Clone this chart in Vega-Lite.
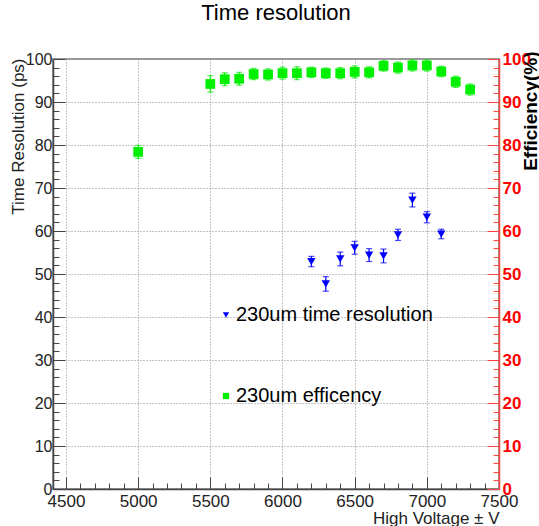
{
  "$schema": "https://vega.github.io/schema/vega-lite/v6.json",
  "width": 446,
  "height": 430,
  "autosize": {"type": "none"},
  "padding": {"left": 53, "top": 59, "right": 40, "bottom": 37},
  "background": "white",
  "config": {
    "font": "Liberation Sans",
    "view": {"stroke": "#999999", "strokeWidth": 2},
    "axisLeft": {
      "labelOverlap": false, "labelBound": false, "labelFlush": false,
      "labelFontSize": 16, "labelColor": "#222222", "labelPadding": 13,
      "tickColor": "#444444", "tickWidth": 1,
      "domainColor": "#444444", "domainWidth": 1.5,
      "gridDash": [1, 2], "gridColor": "#888888",
      "titleFontSize": 17, "titleFontWeight": "normal", "titleColor": "#222222",
      "titleAngle": -90, "titleAlign": "right", "titleBaseline": "middle", "titleX": -35, "titleY": -1
    },
    "axisRight": {
      "labelOverlap": false, "labelBound": false, "labelFlush": false,
      "labelFontSize": 17, "labelFontWeight": "bold", "labelColor": "#ff0000", "labelPadding": 15,
      "tickColor": "#ff4444", "tickWidth": 1,
      "domainColor": "#ff4444", "domainWidth": 1.5,
      "titleFontSize": 19, "titleFontWeight": "bold", "titleColor": "#000000",
      "titleAngle": -90, "titleAlign": "right", "titleBaseline": "middle", "titleX": 31, "titleY": -8
    }
  },
  "title": {"text": "Time resolution", "fontSize": 22, "fontWeight": "normal", "color": "#000000", "offset": 25, "anchor": "middle"},
  "datasets": {
    "eff": [
      {"V": 5000, "val": 78.4, "lo": 76.9, "hi": 79.9, "series": "230um efficency"},
      {"V": 5500, "val": 94.2, "lo": 92.3, "hi": 96.1, "series": "230um efficency"},
      {"V": 5600, "val": 95.3, "lo": 93.8, "hi": 96.8, "series": "230um efficency"},
      {"V": 5700, "val": 95.4, "lo": 93.9, "hi": 96.9, "series": "230um efficency"},
      {"V": 5800, "val": 96.5, "lo": 95.2, "hi": 97.8, "series": "230um efficency"},
      {"V": 5900, "val": 96.4, "lo": 95.1, "hi": 97.7, "series": "230um efficency"},
      {"V": 6000, "val": 96.7, "lo": 95.3, "hi": 98.1, "series": "230um efficency"},
      {"V": 6100, "val": 96.7, "lo": 95.2, "hi": 98.2, "series": "230um efficency"},
      {"V": 6200, "val": 96.9, "lo": 95.7, "hi": 98.1, "series": "230um efficency"},
      {"V": 6300, "val": 96.7, "lo": 95.5, "hi": 97.9, "series": "230um efficency"},
      {"V": 6400, "val": 96.7, "lo": 95.4, "hi": 98.0, "series": "230um efficency"},
      {"V": 6500, "val": 97.0, "lo": 95.6, "hi": 98.4, "series": "230um efficency"},
      {"V": 6600, "val": 96.9, "lo": 95.6, "hi": 98.2, "series": "230um efficency"},
      {"V": 6700, "val": 98.4, "lo": 97.2, "hi": 99.6, "series": "230um efficency"},
      {"V": 6800, "val": 98.0, "lo": 96.7, "hi": 99.3, "series": "230um efficency"},
      {"V": 6900, "val": 98.5, "lo": 97.2, "hi": 99.8, "series": "230um efficency"},
      {"V": 7000, "val": 98.5, "lo": 97.2, "hi": 99.8, "series": "230um efficency"},
      {"V": 7100, "val": 97.1, "lo": 95.9, "hi": 98.3, "series": "230um efficency"},
      {"V": 7200, "val": 94.7, "lo": 93.4, "hi": 96.0, "series": "230um efficency"},
      {"V": 7300, "val": 92.9, "lo": 91.6, "hi": 94.2, "series": "230um efficency"}
    ],
    "tres": [
      {"V": 6200, "val": 52.9, "lo": 51.7, "hi": 54.1, "series": "230um time resolution"},
      {"V": 6300, "val": 47.7, "lo": 46.0, "hi": 49.4, "series": "230um time resolution"},
      {"V": 6400, "val": 53.5, "lo": 51.9, "hi": 55.1, "series": "230um time resolution"},
      {"V": 6500, "val": 56.1, "lo": 54.6, "hi": 57.6, "series": "230um time resolution"},
      {"V": 6600, "val": 54.4, "lo": 52.9, "hi": 55.9, "series": "230um time resolution"},
      {"V": 6700, "val": 54.2, "lo": 52.6, "hi": 55.8, "series": "230um time resolution"},
      {"V": 6800, "val": 59.1, "lo": 57.8, "hi": 60.4, "series": "230um time resolution"},
      {"V": 6900, "val": 67.2, "lo": 65.6, "hi": 68.8, "series": "230um time resolution"},
      {"V": 7000, "val": 63.2, "lo": 61.9, "hi": 64.5, "series": "230um time resolution"},
      {"V": 7100, "val": 59.3, "lo": 58.2, "hi": 60.4, "series": "230um time resolution"}
    ]
  },
  "encoding": {
    "x": {
      "field": "V", "type": "quantitative",
      "scale": {"domain": [4410, 7500], "nice": false, "zero": false},
      "axis": {
        "orient": "bottom",
        "values": [4500,4600,4700,4800,4900,5000,5100,5200,5300,5400,5500,5600,5700,5800,5900,6000,6100,6200,6300,6400,6500,6600,6700,6800,6900,7000,7100,7200,7300,7400,7500],
        "format": "d",
        "labelExpr": "datum.value % 500 === 0 ? datum.label : ''",
        "labelFlush": false, "labelOverlap": false, "labelBound": false,
        "labelFontSize": 17, "labelColor": "#222222", "labelPadding": 16,
        "tickSize": {"condition": {"test": "datum.value % 500 === 0", "value": -12}, "value": -6},
        "tickColor": "#444444", "tickWidth": 1,
        "domainColor": "#444444", "domainWidth": 1.5,
        "grid": true, "gridDash": [1, 2], "gridColor": "#888888",
        "gridOpacity": {"condition": {"test": "datum.value % 500 === 0 && datum.value < 7500", "value": 1}, "value": 0},
        "title": "High Voltage ± V", "titleFontSize": 17, "titleFontWeight": "normal", "titleColor": "#222222",
        "titleAlign": "right", "titleAnchor": "end", "titleBaseline": "alphabetic", "titleX": 446, "titleY": 34
      }
    }
  },
  "layer": [
    {
      "data": {"name": "tres"},
      "layer": [
        {
          "mark": {"type": "rule", "color": "#0000ff", "strokeWidth": 1.2},
          "encoding": {
            "y": {"field": "lo", "type": "quantitative", "scale": {"domain": [0, 100], "nice": false, "zero": false},
              "axis": {"orient": "left", "title": "Time Resolution (ps)", "values": [0,2,4,6,8,10,12,14,16,18,20,22,24,26,28,30,32,34,36,38,40,42,44,46,48,50,52,54,56,58,60,62,64,66,68,70,72,74,76,78,80,82,84,86,88,90,92,94,96,98,100], "labelExpr": "datum.value % 10 === 0 ? datum.label : ''", "tickSize": {"condition": {"test": "datum.value % 10 === 0", "value": -12}, "value": -6}, "grid": true, "gridOpacity": {"condition": {"test": "datum.value % 10 === 0 && datum.value > 0 && datum.value < 100", "value": 1}, "value": 0}}},
            "y2": {"field": "hi"}
          }
        },
        {
          "mark": {"type": "tick", "orient": "horizontal", "color": "#0000ff", "size": 6, "thickness": 1.2},
          "encoding": {"y": {"field": "lo", "type": "quantitative", "scale": {"domain": [0, 100], "nice": false, "zero": false},
            "axis": {"orient": "left", "title": "Time Resolution (ps)", "values": [0,2,4,6,8,10,12,14,16,18,20,22,24,26,28,30,32,34,36,38,40,42,44,46,48,50,52,54,56,58,60,62,64,66,68,70,72,74,76,78,80,82,84,86,88,90,92,94,96,98,100], "labelExpr": "datum.value % 10 === 0 ? datum.label : ''", "tickSize": {"condition": {"test": "datum.value % 10 === 0", "value": -12}, "value": -6}, "grid": true, "gridOpacity": {"condition": {"test": "datum.value % 10 === 0 && datum.value > 0 && datum.value < 100", "value": 1}, "value": 0}}}}
        },
        {
          "mark": {"type": "tick", "orient": "horizontal", "color": "#0000ff", "size": 6, "thickness": 1.2},
          "encoding": {"y": {"field": "hi", "type": "quantitative", "scale": {"domain": [0, 100], "nice": false, "zero": false},
            "axis": {"orient": "left", "title": "Time Resolution (ps)", "values": [0,2,4,6,8,10,12,14,16,18,20,22,24,26,28,30,32,34,36,38,40,42,44,46,48,50,52,54,56,58,60,62,64,66,68,70,72,74,76,78,80,82,84,86,88,90,92,94,96,98,100], "labelExpr": "datum.value % 10 === 0 ? datum.label : ''", "tickSize": {"condition": {"test": "datum.value % 10 === 0", "value": -12}, "value": -6}, "grid": true, "gridOpacity": {"condition": {"test": "datum.value % 10 === 0 && datum.value > 0 && datum.value < 100", "value": 1}, "value": 0}}}}
        },
        {
          "mark": {"type": "point", "filled": true, "size": 70, "opacity": 1},
          "encoding": {
            "y": {
              "field": "val", "type": "quantitative",
              "scale": {"domain": [0, 100], "nice": false, "zero": false},
              "axis": {"orient": "left", "title": "Time Resolution (ps)", "values": [0,2,4,6,8,10,12,14,16,18,20,22,24,26,28,30,32,34,36,38,40,42,44,46,48,50,52,54,56,58,60,62,64,66,68,70,72,74,76,78,80,82,84,86,88,90,92,94,96,98,100], "labelExpr": "datum.value % 10 === 0 ? datum.label : ''", "tickSize": {"condition": {"test": "datum.value % 10 === 0", "value": -12}, "value": -6}, "grid": true, "gridOpacity": {"condition": {"test": "datum.value % 10 === 0 && datum.value > 0 && datum.value < 100", "value": 1}, "value": 0}}
            },
            "color": {
              "field": "series", "type": "nominal",
              "scale": {"domain": ["230um time resolution", "230um efficency"], "range": ["#0000ff", "#00f000"]},
              "legend": {"orient": "none", "legendX": 163, "legendY": 246, "title": null, "labelFontSize": 20, "labelColor": "#000000", "labelLimit": 400, "symbolSize": 40, "rowPadding": 61, "padding": 0, "labelOffset": 0}
            },
            "shape": {
              "field": "series", "type": "nominal",
              "scale": {"domain": ["230um time resolution", "230um efficency"], "range": ["triangle-down", "square"]},
              "legend": {"orient": "none", "legendX": 163, "legendY": 246, "title": null, "labelFontSize": 20, "labelColor": "#000000", "labelLimit": 400, "symbolSize": 40, "rowPadding": 61, "padding": 0, "labelOffset": 0}
            }
          }
        }
      ]
    },
    {
      "data": {"name": "eff"},
      "layer": [
        {
          "mark": {"type": "rule", "color": "#00f000", "strokeWidth": 1.2},
          "encoding": {
            "y": {"field": "lo", "type": "quantitative", "scale": {"domain": [0, 100], "nice": false, "zero": false},
              "axis": {"orient": "right", "title": "Efficiency(%)", "values": [0,2,4,6,8,10,12,14,16,18,20,22,24,26,28,30,32,34,36,38,40,42,44,46,48,50,52,54,56,58,60,62,64,66,68,70,72,74,76,78,80,82,84,86,88,90,92,94,96,98,100], "labelExpr": "datum.value % 10 === 0 ? datum.label : ''", "tickSize": {"condition": {"test": "datum.value % 10 === 0", "value": -12}, "value": -6}, "grid": false}},
            "y2": {"field": "hi"}
          }
        },
        {
          "mark": {"type": "tick", "orient": "horizontal", "color": "#00f000", "size": 6, "thickness": 1.2},
          "encoding": {"y": {"field": "lo", "type": "quantitative", "scale": {"domain": [0, 100], "nice": false, "zero": false},
            "axis": {"orient": "right", "title": "Efficiency(%)", "values": [0,2,4,6,8,10,12,14,16,18,20,22,24,26,28,30,32,34,36,38,40,42,44,46,48,50,52,54,56,58,60,62,64,66,68,70,72,74,76,78,80,82,84,86,88,90,92,94,96,98,100], "labelExpr": "datum.value % 10 === 0 ? datum.label : ''", "tickSize": {"condition": {"test": "datum.value % 10 === 0", "value": -12}, "value": -6}, "grid": false}}}
        },
        {
          "mark": {"type": "tick", "orient": "horizontal", "color": "#00f000", "size": 6, "thickness": 1.2},
          "encoding": {"y": {"field": "hi", "type": "quantitative", "scale": {"domain": [0, 100], "nice": false, "zero": false},
            "axis": {"orient": "right", "title": "Efficiency(%)", "values": [0,2,4,6,8,10,12,14,16,18,20,22,24,26,28,30,32,34,36,38,40,42,44,46,48,50,52,54,56,58,60,62,64,66,68,70,72,74,76,78,80,82,84,86,88,90,92,94,96,98,100], "labelExpr": "datum.value % 10 === 0 ? datum.label : ''", "tickSize": {"condition": {"test": "datum.value % 10 === 0", "value": -12}, "value": -6}, "grid": false}}}
        },
        {
          "mark": {"type": "point", "filled": true, "size": 95, "opacity": 1},
          "encoding": {
            "y": {
              "field": "val", "type": "quantitative",
              "scale": {"domain": [0, 100], "nice": false, "zero": false},
              "axis": {"orient": "right", "title": "Efficiency(%)", "values": [0,2,4,6,8,10,12,14,16,18,20,22,24,26,28,30,32,34,36,38,40,42,44,46,48,50,52,54,56,58,60,62,64,66,68,70,72,74,76,78,80,82,84,86,88,90,92,94,96,98,100], "labelExpr": "datum.value % 10 === 0 ? datum.label : ''", "tickSize": {"condition": {"test": "datum.value % 10 === 0", "value": -12}, "value": -6}, "grid": false}
            },
            "color": {
              "field": "series", "type": "nominal",
              "scale": {"domain": ["230um time resolution", "230um efficency"], "range": ["#0000ff", "#00f000"]},
              "legend": {"orient": "none", "legendX": 163, "legendY": 246, "title": null, "labelFontSize": 20, "labelColor": "#000000", "labelLimit": 400, "symbolSize": 40, "rowPadding": 61, "padding": 0, "labelOffset": 0}
            },
            "shape": {
              "field": "series", "type": "nominal",
              "scale": {"domain": ["230um time resolution", "230um efficency"], "range": ["triangle-down", "square"]},
              "legend": {"orient": "none", "legendX": 163, "legendY": 246, "title": null, "labelFontSize": 20, "labelColor": "#000000", "labelLimit": 400, "symbolSize": 40, "rowPadding": 61, "padding": 0, "labelOffset": 0}
            }
          }
        }
      ]
    }
  ],
  "resolve": {"scale": {"y": "independent"}}
}
